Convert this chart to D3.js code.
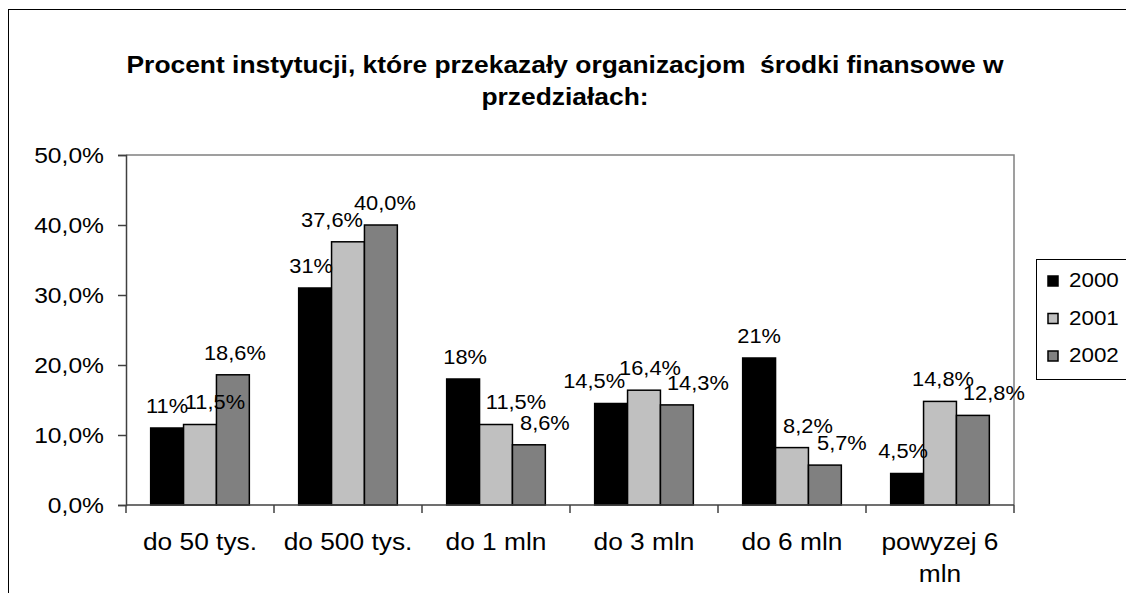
<!DOCTYPE html>
<html>
<head>
<meta charset="utf-8">
<script src="https://cdn.jsdelivr.net/npm/d3@7"></script>
<style>
  body { margin: 0; background: #fff; }
  text { font-family: "Liberation Sans", Arial, sans-serif; fill: #000; }
</style>
</head>
<body>
<svg id="chart" width="1126" height="593"></svg>
<script>
const categories = ["do 50 tys.", "do 500 tys.", "do 1 mln", "do 3 mln", "do 6 mln", "powyzej 6 mln"];
const categoryLines = [["do 50 tys."], ["do 500 tys."], ["do 1 mln"], ["do 3 mln"], ["do 6 mln"], ["powyzej 6", "mln"]];
const years = ["2000", "2001", "2002"];
const values2000 = [0.11, 0.31, 0.18, 0.145, 0.21, 0.045];
const values2001 = [0.115, 0.376, 0.115, 0.164, 0.082, 0.148];
const values2002 = [0.186, 0.40, 0.086, 0.143, 0.057, 0.128];
const labels2000 = ["11%", "31%", "18%", "14,5%", "21%", "4,5%"];
const labels2001 = ["11,5%", "37,6%", "11,5%", "16,4%", "8,2%", "14,8%"];
const labels2002 = ["18,6%", "40,0%", "8,6%", "14,3%", "5,7%", "12,8%"];
const yTicks = [0, 0.1, 0.2, 0.3, 0.4, 0.5];

const colors = ["#000000", "#c0c0c0", "#808080"];
const seriesValues = [values2000, values2001, values2002];
const seriesLabels = [labels2000, labels2001, labels2002];
// small horizontal nudges of the value labels, as placed in the original
const labelDx = [[0, -4, 2, -17, 0, -4], [15, -16, 20, 6, 16, 3], [2, 4, 16, 21, 17, 21]];

const svg = d3.select("#chart");
const plotLeft = 126, plotRight = 1014, plotTop = 155, plotBottom = 505;
const k = 1.12; // the original text is drawn a bit wide

function stretch(sel, f) {
    f = f || k;
    sel.each(function() {
        const x = +this.getAttribute("x") || 0;
        const y = +this.getAttribute("y") || 0;
        this.setAttribute("transform", `translate(${x},${y}) scale(${f},1) translate(${-x},${-y})`);
    });
}

const locale = d3.formatLocale({decimal: ",", thousands: " ", grouping: [3], currency: ["", ""]});
const fmt = locale.format(".1%");

// outer frame
svg.append("rect")
    .attr("x", 8.5).attr("y", 9.5)
    .attr("width", 1200).attr("height", 700)
    .attr("fill", "none").attr("stroke", "#000").attr("stroke-width", 1);

// title
const title = svg.append("text")
    .attr("text-anchor", "middle")
    .attr("font-weight", "bold")
    .attr("font-size", 24)
    .attr("x", 565)
    .style("white-space", "pre");
title.append("tspan").attr("x", 565).attr("y", 73).text("Procent instytucji, które przekazały organizacjom  środki finansowe w");
title.append("tspan").attr("x", 565).attr("y", 105).text("przedziałach:");
stretch(title, 1.1);

const x = d3.scaleBand().domain(categories).range([plotLeft, plotRight]).paddingInner(0).paddingOuter(0);
const xs = d3.scaleBand().domain(years).range([0, x.bandwidth()]).paddingInner(0).paddingOuter(0.75);
const y = d3.scaleLinear().domain([0, 0.5]).range([plotBottom, plotTop]);

// plot area border (top and right)
svg.append("path")
    .attr("d", `M${plotLeft},${plotTop}H${plotRight}V${plotBottom}`)
    .attr("fill", "none").attr("stroke", "#808080").attr("stroke-width", 1.5);

// bars
years.forEach((yr, i) => {
    svg.selectAll(`.bar${i}`)
        .data(categories)
        .enter().append("rect")
        .attr("class", `bar${i}`)
        .attr("x", d => x(d) + xs(yr))
        .attr("y", (d, j) => y(seriesValues[i][j]))
        .attr("width", xs.bandwidth())
        .attr("height", (d, j) => plotBottom - y(seriesValues[i][j]))
        .attr("fill", colors[i])
        .attr("stroke", "#000")
        .attr("stroke-width", 1.5);
});

// y axis
const yAxis = svg.append("g")
    .attr("transform", `translate(${plotLeft},0)`)
    .call(d3.axisLeft(y).tickValues(yTicks).tickFormat(fmt).tickSize(8).tickPadding(14));
yAxis.select(".domain").attr("stroke", "#404040").attr("stroke-width", 1.5);
yAxis.selectAll(".tick line").attr("stroke", "#404040").attr("stroke-width", 1.5);
yAxis.selectAll("text").attr("font-size", 22).attr("font-family", null).attr("dy", "0.36em");
stretch(yAxis.selectAll("text"));

// x axis (ticks on category boundaries)
const xAxis = svg.append("g").attr("transform", `translate(0,${plotBottom})`);
xAxis.append("line").attr("x1", plotLeft).attr("x2", plotRight)
    .attr("stroke", "#404040").attr("stroke-width", 1.5);
xAxis.selectAll(".sep")
    .data(categories.concat([null]))
    .enter().append("line")
    .attr("x1", (d, i) => plotLeft + i * x.step())
    .attr("x2", (d, i) => plotLeft + i * x.step())
    .attr("y1", 0).attr("y2", 8)
    .attr("stroke", "#404040").attr("stroke-width", 1.5);

const catText = svg.selectAll(".cat")
    .data(categories)
    .enter().append("text")
    .attr("class", "cat")
    .attr("text-anchor", "middle")
    .attr("font-size", 23.5);
catText.each(function(d, i) {
    const t = d3.select(this);
    categoryLines[i].forEach((line, li) => {
        t.append("tspan")
            .attr("x", x(d) + x.bandwidth() / 2)
            .attr("y", 550 + li * 32)
            .text(line);
    });
});
catText.each(function(d) {
    const cx = x(d) + x.bandwidth() / 2;
    this.setAttribute("transform", `translate(${cx},0) scale(${k},1) translate(${-cx},0)`);
});

// value labels
years.forEach((yr, i) => {
    const lab = svg.selectAll(`.lab${i}`)
        .data(categories)
        .enter().append("text")
        .attr("class", `lab${i}`)
        .attr("text-anchor", "middle")
        .attr("font-size", 19.5)
        .attr("x", (d, j) => x(d) + xs(yr) + xs.bandwidth() / 2 + labelDx[i][j])
        .attr("y", (d, j) => y(seriesValues[i][j]) - 15)
        .text((d, j) => seriesLabels[i][j]);
    stretch(lab);
});

// legend
const legend = svg.append("g");
legend.append("rect")
    .attr("x", 1036.5).attr("y", 259.5)
    .attr("width", 200).attr("height", 120)
    .attr("fill", "#fff").attr("stroke", "#000").attr("stroke-width", 1);
years.forEach((yr, i) => {
    const row = legend.append("g").attr("transform", `translate(0,${287 + i * 37.5})`);
    row.append("rect")
        .attr("x", 1048).attr("y", -11)
        .attr("width", 10).attr("height", 10)
        .attr("fill", colors[i]).attr("stroke", "#000").attr("stroke-width", 1.5);
    const t = row.append("text")
        .attr("x", 1069).attr("y", 0)
        .attr("font-size", 20)
        .text(yr);
    stretch(t);
});
</script>
</body>
</html>
